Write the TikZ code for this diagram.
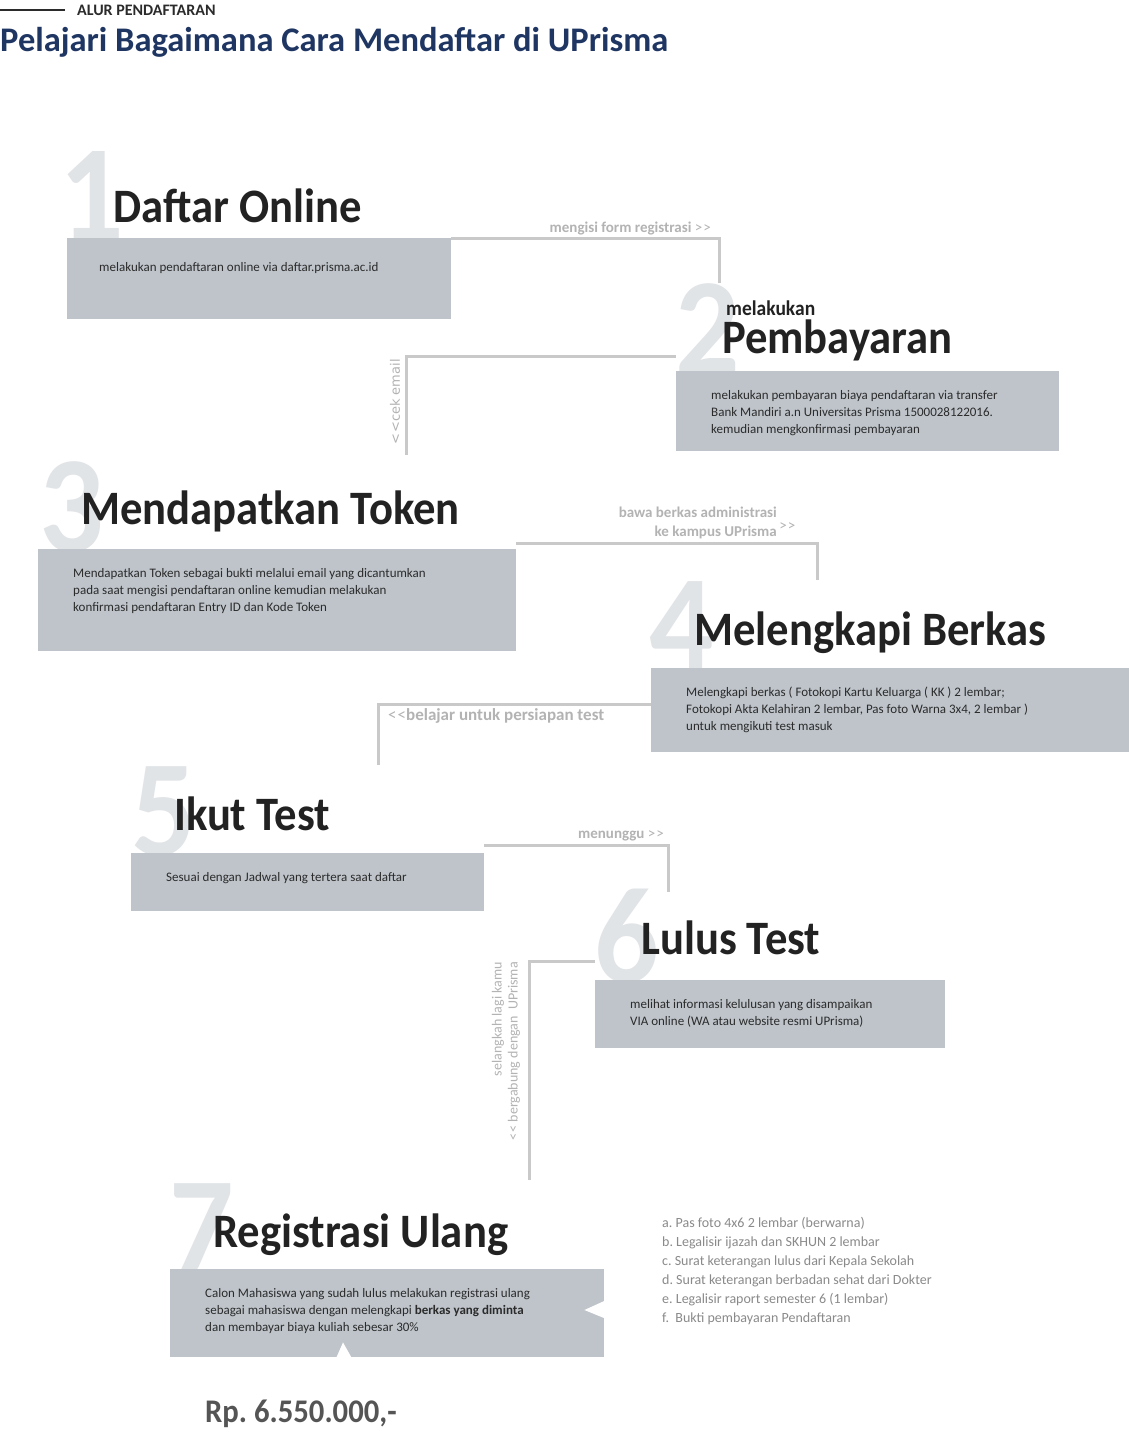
\documentclass[tikz,border=0pt]{standalone}
\usepackage{fontspec}
\setmainfont{Carlito}
\newfontfamily\headfont[FakeStretch=0.93]{Carlito}
\newfontfamily\roundfont{DejaVu Sans}
\usepackage{xcolor}
\usepackage{tikz}
\usetikzlibrary{positioning}
\definecolor{boxgray}{HTML}{BEC4CA}
\definecolor{digitgray}{HTML}{E1E4E7}
\definecolor{linegray}{HTML}{C9C9C9}
\definecolor{hintgray}{HTML}{B3B3B3}
\definecolor{textdark}{HTML}{2B2B2B}
\definecolor{headdark}{HTML}{222222}
\definecolor{navy}{HTML}{1F3663}
\definecolor{listgray}{HTML}{8A8A8A}
\definecolor{pricegray}{HTML}{555555}
\newcommand\fwd{>\kern1pt>}
\newcommand\bwd{<\kern1pt<}
\frenchspacing
\tikzset{
	info box/.style={rectangle,fill=boxgray,inner sep=0pt,anchor=north west},
	big digit/.style={anchor=base west,inner sep=0pt,text=digitgray,
		font=\headfont\bfseries\fontsize{137}{137}\selectfont},
	step title/.style={anchor=base west,inner sep=0pt,text=headdark,
		font=\headfont\bfseries\fontsize{48}{48}\selectfont},
	desc/.style={inner sep=0pt,align=left,text=textdark,font=\fontsize{13}{17}\selectfont},
	hint/.style={inner sep=0pt,text=hintgray,font=\bfseries\fontsize{15}{19}\selectfont},
	flow/.style={draw=linegray,line width=3pt}
}

\begin{document}
\begin{tikzpicture}[x=1pt,y=-1pt]
	\useasboundingbox (0,0) rectangle (1129,1449);
	\fill[white] (0,0) rectangle (1129,1449);
	\node[anchor=base west,inner sep=0pt,text=textdark,font=\bfseries\fontsize{16}{16}\selectfont] (kicker) at (77,15) {ALUR PENDAFTARAN};
	\draw[textdark,line width=1.5pt] ([xshift=-12pt]kicker.west) -- ++(-65,0);
	\node[anchor=base west,inner sep=0pt,text=navy,font=\bfseries\fontsize{34.5}{34.5}\selectfont] (title) at (0,51) {Pelajari Bagaimana Cara Mendaftar di UPrisma};

	\node[big digit] (n1) at (59,240) {1};
	\node[info box,minimum width=384pt,minimum height=81pt] (b1) at (67,238) {};
	\node[step title] (h1) at (113,222) {Daftar Online};
	\node[desc,below right=24pt and 32pt of b1.north west] (t1) {melakukan pendaftaran online via daftar.prisma.ac.id};

	\node[big digit] (n2) at (675,373) {2};
	\node[info box,minimum width=383pt,minimum height=80pt] (b2) at (676,371) {};
	\node[anchor=base west,inner sep=0pt,text=headdark,font=\headfont\bfseries\fontsize{21}{21}\selectfont] (k2) at (726,315) {melakukan};
	\node[step title] (h2) at (722,353) {Pembayaran};
	\node[desc,below right=19pt and 35pt of b2.north west] (t2) {melakukan pembayaran biaya pendaftaran via transfer\\Bank Mandiri a.n Universitas Prisma 1500028122016.\\kemudian mengkonfirmasi pembayaran};

	\node[big digit] (n3) at (39,551) {3};
	\node[info box,minimum width=478pt,minimum height=102pt] (b3) at (38,549) {};
	\node[step title] (h3) at (81,524) {Mendapatkan Token};
	\node[desc,below right=19pt and 35pt of b3.north west] (t3) {Mendapatkan Token sebagai bukti melalui email yang dicantumkan\\pada saat mengisi pendaftaran online kemudian melakukan\\konfirmasi pendaftaran Entry ID dan Kode Token};

	\node[big digit] (n4) at (649,670) {4};
	\node[info box,minimum width=478pt,minimum height=84pt] (b4) at (651,668) {};
	\node[step title] (h4) at (694,645) {Melengkapi Berkas};
	\node[desc,below right=19pt and 35pt of b4.north west] (t4) {Melengkapi berkas ( Fotokopi Kartu Keluarga ( KK ) 2 lembar;\\Fotokopi Akta Kelahiran 2 lembar, Pas foto Warna 3x4, 2 lembar )\\untuk mengikuti test masuk};

	\node[big digit] (n5) at (131,855) {5};
	\node[info box,minimum width=353pt,minimum height=58pt] (b5) at (131,853) {};
	\node[step title] (h5) at (174,830) {Ikut Test};
	\node[desc,below right=19pt and 35pt of b5.north west] (t5) {Sesuai dengan Jadwal yang tertera saat daftar};

	\node[big digit] (n6) at (594,982) {6};
	\node[info box,minimum width=350pt,minimum height=68pt] (b6) at (595,980) {};
	\node[step title] (h6) at (641,954) {Lulus Test};
	\node[desc,below right=19pt and 35pt of b6.north west] (t6) {melihat informasi kelulusan yang disampaikan\\VIA online (WA atau website resmi UPrisma)};

	\node[big digit] (n7) at (169,1272) {7};
	\node[info box,minimum width=434pt,minimum height=88pt] (b7) at (170,1269) {};
	\fill[white] ([xshift=2pt,yshift=-31pt]b7.north east) -- ([xshift=-20pt,yshift=-41pt]b7.north east) -- ([xshift=2pt,yshift=-50pt]b7.north east) -- cycle;
	\fill[white] ([xshift=166pt,yshift=-1pt]b7.south west) -- ([xshift=173pt,yshift=15pt]b7.south west) -- ([xshift=182pt,yshift=-1pt]b7.south west) -- cycle;
	\node[step title] (h7) at (213,1247) {Registrasi Ulang};
	\node[desc,below right=19pt and 35pt of b7.north west] (t7) {Calon Mahasiswa yang sudah lulus melakukan registrasi ulang\\sebagai mahasiswa dengan melengkapi \textbf{berkas yang diminta}\\dan membayar biaya kuliah sebesar 30\%};
	\node[anchor=north west,inner sep=0pt,align=left,text=listgray,font=\fontsize{14}{19}\selectfont] (req) at (662,1217) {a. Pas foto 4x6 2 lembar (berwarna)\\b. Legalisir ijazah dan SKHUN 2 lembar\\c. Surat keterangan lulus dari Kepala Sekolah\\d. Surat keterangan berbadan sehat dari Dokter\\e. Legalisir raport semester 6 (1 lembar)\\f.\ \ Bukti pembayaran Pendaftaran};
	\node[anchor=base west,inner sep=0pt,text=pricegray,font=\headfont\bfseries\fontsize{33}{33}\selectfont] (price) at (205,1422) {Rp. 6.550.000,-};

	\coordinate (e12) at (719,283);
	\draw[flow] (b1.north east) -| (e12);
	\node[hint,anchor=base east] (l12) at (711,232) {mengisi form registrasi {\mdseries\fwd}};
	\coordinate (e23) at (406,455);
	\draw[flow] ([yshift=15pt]b2.north west) -| (e23);
	\node[rotate=90,inner sep=0pt,text=hintgray,font=\roundfont\fontsize{13}{13}\selectfont] (l23) at (395,402) {\bwd cek email};
	\coordinate (e34) at (817,580);
	\draw[flow] ([yshift=6pt]b3.north east) -| (e34);
	\node[hint,align=right,anchor=north east] (l34) at (777,507) {bawa berkas administrasi\\ke kampus UPrisma\rlap{\mdseries\raisebox{6pt}{\,\fwd}}};
	\coordinate (e45) at (378,765);
	\draw[flow] ([yshift=-36pt]b4.north west) -| (e45);
	\node[hint,anchor=base west,font=\bfseries\fontsize{17}{19}\selectfont] (l45) at (388,720) {{\mdseries\bwd}belajar untuk persiapan test};
	\coordinate (e56) at (668,892);
	\draw[flow] ([yshift=8pt]b5.north east) -| (e56);
	\node[hint,anchor=base east] (l56) at (664,838) {menunggu {\mdseries\fwd}};
	\coordinate (e67) at (529,1180);
	\draw[flow] ([yshift=19pt]b6.north west) -| (e67);
	\node[rotate=90,anchor=east,align=right,inner sep=0pt,text=hintgray,font=\fontsize{14}{16}\selectfont] (l67) at (506,962) {selangkah lagi kamu\\\bwd{} bergabung dengan\ \ UPrisma};
\end{tikzpicture}
\end{document}
